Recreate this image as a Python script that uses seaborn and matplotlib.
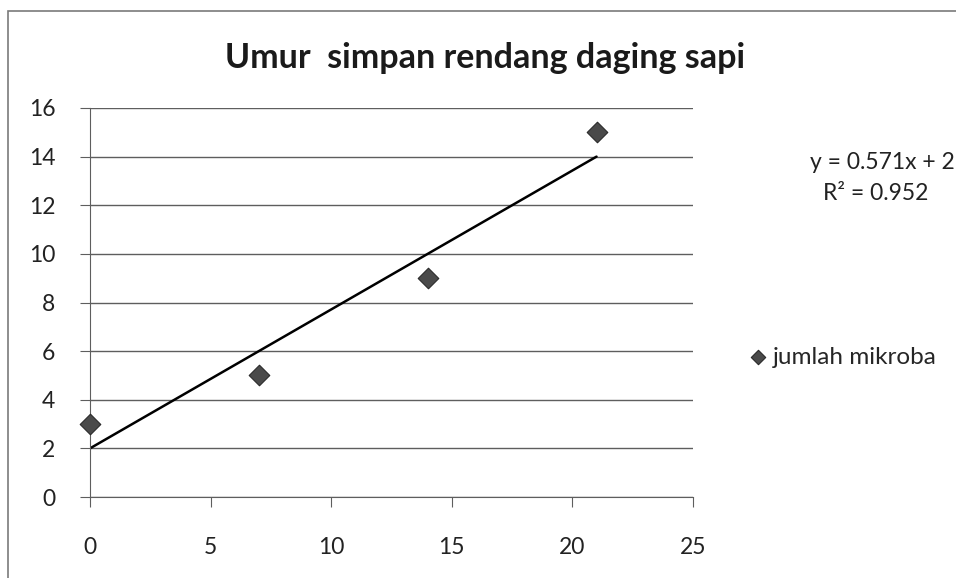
import numpy as np
import pandas as pd
import matplotlib
matplotlib.use("Agg")
import matplotlib.pyplot as plt
import seaborn as sns
from matplotlib.patches import Rectangle

# data
hari = [0, 7, 14, 21]
jumlah_mikroba = [3, 5, 9, 15]
x_ticks = [0, 5, 10, 15, 20, 25]
y_ticks = [0, 2, 4, 6, 8, 10, 12, 14, 16]

df = pd.DataFrame({"hari": hari, "jumlah mikroba": jumlah_mikroba})

sns.set_style("white")
plt.rcParams['font.family'] = ['Lato', 'DejaVu Sans']

fig = plt.figure(figsize=(9.56, 5.78), dpi=100)
ax = fig.add_axes([90/956, 1-497/578, 603/956, 389/578])

# trend line
sns.regplot(data=df, x="hari", y="jumlah mikroba", scatter=False, ci=None,
            color="black", line_kws={"linewidth": 1.8}, ax=ax)
sns.scatterplot(data=df, x="hari", y="jumlah mikroba", marker="D", s=110,
                color="#4a4a4a", edgecolor="#2a2a2a", linewidth=0.8,
                label="jumlah mikroba", ax=ax, zorder=5, clip_on=False)

slope, intercept = np.polyfit(hari, jumlah_mikroba, 1)
r2 = np.corrcoef(hari, jumlah_mikroba)[0, 1] ** 2

ax.set_xlim(0, 25)
ax.set_ylim(0, 16)
ax.set_xticks(x_ticks)
ax.set_yticks(y_ticks)
ax.set_xlabel("")
ax.set_ylabel("")
ax.grid(axis="y", color="#5e5e5e", linewidth=1)
ax.set_axisbelow(True)
for s in ["top", "right"]:
    ax.spines[s].set_visible(False)
ax.spines["left"].set_color("#5e5e5e")
ax.spines["bottom"].set_color("#5e5e5e")
ax.tick_params(axis="both", labelsize=16.5, colors="#5e5e5e", labelcolor="#222222",
               length=7, direction="out", left=True, bottom=True)
ax.tick_params(axis="x", pad=22)
ax.tick_params(axis="y", pad=18)

fig.text(485/956, 1-58/578, "Umur  simpan rendang daging sapi", ha="center", va="center",
         fontsize=24.5, fontweight="bold", color="#1a1a1a")
fig.text(882/956, 1-162/578, f"y = {slope:.3f}x + {intercept:.0f}", ha="center", va="center",
         fontsize=16.5, color="#222222")
fig.text(876/956, 1-194/578, f"R² = {r2:.3f}", ha="center", va="center",
         fontsize=16.5, color="#222222")

ax.legend(loc="center left", bbox_to_anchor=(724/956, 1-357/578),
          bbox_transform=fig.transFigure, frameon=False, fontsize=17.5,
          handletextpad=-0.4, markerscale=0.7, borderaxespad=0)

fig.patches.append(Rectangle((8/956, -0.1), 1.1, 1.1-11/578, transform=fig.transFigure,
                             fill=False, edgecolor="#7a7a7a", linewidth=1.2))

fig.savefig("out.png", dpi=100)
